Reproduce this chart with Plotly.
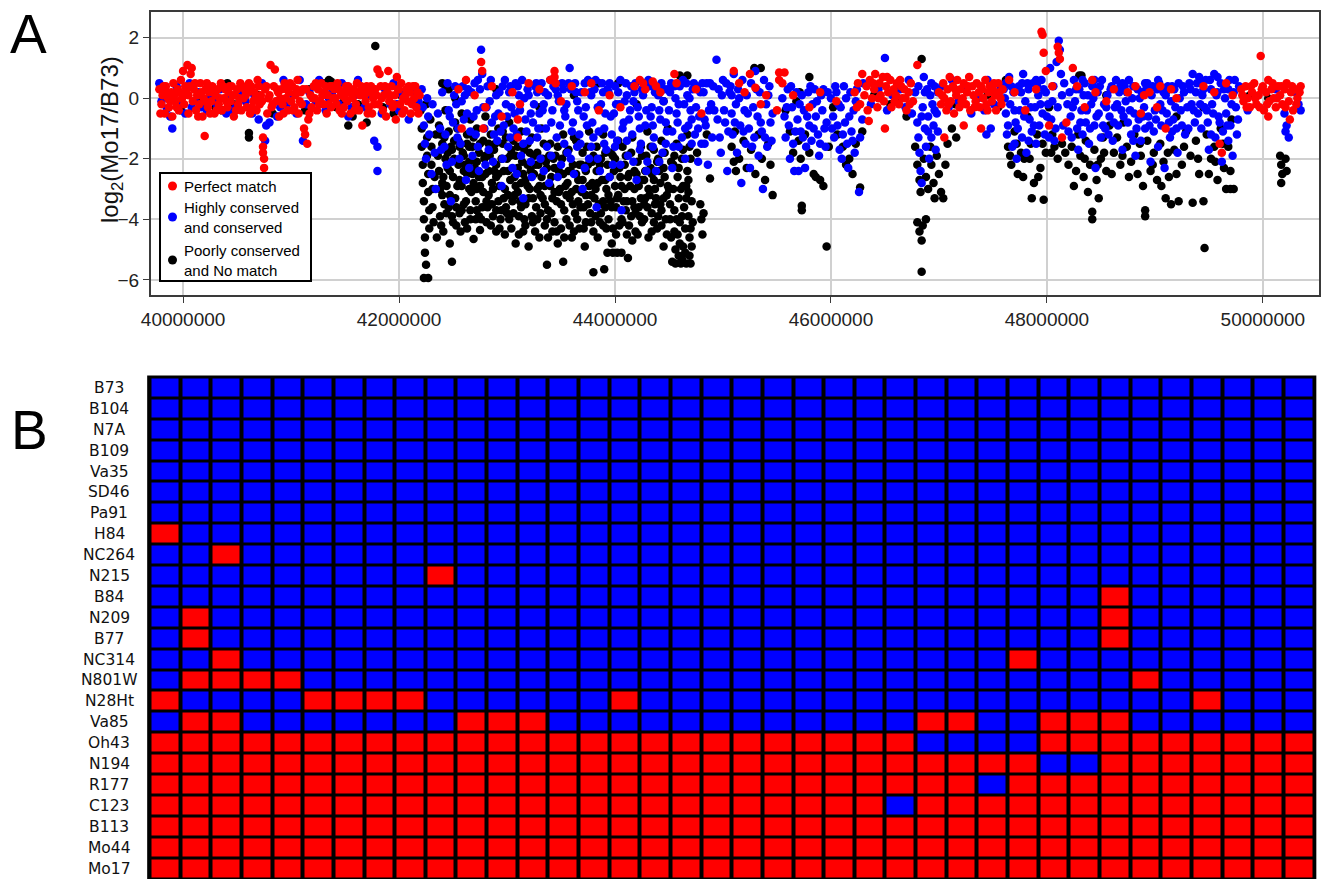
import plotly.graph_objects as go

# ---------------- Panel A data (x in Mb, y = log2(Mo17/B73)) ----------------
perfect_match = [
    (39.78,0.3),(39.80,-0.2),(39.81,0.1),(39.83,-0.5),(39.84,0.4),(39.86,0.0),(39.87,-0.3),(39.89,0.2),(39.90,-0.6),(39.92,0.1),
    (39.93,-0.1),(39.95,0.3),(39.96,-0.4),(39.98,0.6),(39.99,0.0),(40.00,0.9),(40.01,-0.2),(40.03,0.2),(40.04,1.1),(40.05,-0.5),
    (40.06,0.4),(40.07,0.8),(40.08,1.0),(40.09,-0.1),(40.10,0.3),(40.12,-0.4),(40.13,0.1),(40.15,-0.2),(40.16,0.5),(40.18,-0.6),
    (40.19,0.0),(40.20,-1.25),(40.21,0.3),(40.23,-0.3),(40.24,0.2),(40.26,-0.1),(40.27,0.4),(40.29,-0.5),(40.30,0.1),(40.32,0.3),
    (40.33,-0.2),(40.35,0.5),(40.36,-0.4),(40.38,0.0),(40.39,0.3),(40.41,-0.3),(40.42,0.2),(40.44,-0.1),(40.45,0.4),(40.47,-0.6),
    (40.48,0.1),(40.50,0.3),(40.51,-0.2),(40.53,0.5),(40.54,-0.4),(40.56,0.0),(40.57,0.3),(40.59,-0.3),(40.60,0.2),(40.62,-0.5),
    (40.63,0.4),(40.65,-0.1),(40.66,0.2),(40.68,-0.4),(40.69,0.6),(40.71,-0.2),(40.72,0.1),(40.74,-1.3),(40.74,-1.6),(40.74,-1.8),
    (40.75,-2.0),(40.75,-2.3),(40.76,0.3),(40.78,-0.5),(40.79,0.0),(40.81,1.1),(40.82,-0.3),(40.84,0.4),(40.85,0.95),(40.86,-0.1),
    (40.88,0.2),(40.89,-0.6),(40.91,0.3),(40.92,-0.2),(40.94,0.5),(40.95,0.0),(40.97,-0.4),(40.98,0.2),(41.00,-0.1),(41.01,0.4),
    (41.03,-0.3),(41.04,0.1),(41.06,0.6),(41.07,-0.5),(41.09,0.2),(41.10,-0.2),(41.12,-1.0),(41.13,-1.2),(41.14,0.3),(41.15,-1.5),
    (41.16,-0.7),(41.18,0.1),(41.19,-0.3),(41.21,0.4),(41.22,0.0),(41.24,-0.4),(41.25,0.3),(41.27,-0.1),(41.28,0.5),(41.30,-0.2),
    (41.31,0.2),(41.33,-0.5),(41.34,0.1),(41.36,0.4),(41.37,-0.3),(41.39,0.0),(41.40,0.3),(41.42,-0.2),(41.43,0.5),(41.45,-0.4),
    (41.46,0.1),(41.48,0.2),(41.49,-0.3),(41.51,0.4),(41.52,-0.1),(41.54,0.2),(41.55,-0.5),(41.57,0.0),(41.58,0.3),(41.60,-0.2),
    (41.61,0.5),(41.63,-0.4),(41.64,0.1),(41.66,-0.9),(41.67,0.3),(41.69,-0.1),(41.70,0.4),(41.72,-0.3),(41.73,0.2),(41.75,-0.5),
    (41.76,0.0),(41.78,0.3),(41.80,0.95),(41.81,-0.2),(41.82,0.8),(41.83,0.4),(41.85,-0.4),(41.86,0.1),(41.88,-0.6),(41.89,0.2),
    (41.90,0.9),(41.91,-0.1),(41.93,0.4),(41.94,-0.3),(41.96,0.1),(41.97,-0.7),(41.98,0.7),(41.99,0.3),(42.01,-0.2),(42.02,0.5),
    (42.04,0.0),(42.05,-0.4),(42.07,0.3),(42.08,-0.1),(42.10,0.2),(42.11,-0.5),(42.13,0.4),(42.14,0.0),(42.16,-0.3),(42.17,0.2),
    (39.79,-0.5),(39.82,0.4),(39.85,0.2),(39.88,-0.1),(39.91,0.5),(39.94,-0.3),(39.97,0.2),(40.02,0.4),(40.05,0.1),(40.11,0.5),
    (40.14,-0.6),(40.17,0.2),(40.20,-0.1),(40.22,0.5),(40.25,-0.5),(40.28,0.2),(40.31,-0.4),(40.34,0.0),(40.37,0.4),(40.40,-0.1),
    (40.43,0.4),(40.46,0.1),(40.49,-0.4),(40.52,0.0),(40.55,0.4),(40.58,0.1),(40.61,0.5),(40.64,-0.3),(40.67,0.0),(40.70,0.4),
    (40.73,-0.1),(40.77,0.4),(40.80,0.1),(40.83,-0.2),(40.87,0.3),(40.90,0.0),(40.93,-0.5),(40.96,0.3),(40.99,0.5),(41.02,-0.4),
    (41.05,0.3),(41.08,-0.1),(41.11,0.3),(41.17,-0.5),(41.20,0.0),(41.23,0.5),(41.26,-0.2),(41.29,0.1),(41.32,0.4),(41.35,-0.2),
    (41.38,0.4),(41.41,0.0),(41.44,0.3),(41.47,-0.5),(41.50,0.0),(41.53,0.4),(41.56,0.2),(41.59,-0.4),(41.62,0.2),(41.65,0.4),
    (41.68,0.1),(41.71,-0.5),(41.74,0.4),(41.77,-0.2),(41.79,0.1),(41.84,0.0),(41.87,0.4),(41.92,0.1),(41.95,-0.2),(42.00,0.3),
    (42.03,-0.5),(42.06,0.1),(42.09,0.4),(42.12,-0.2),(42.15,0.4),(42.18,-0.5),(42.19,0.1),
    (42.55,0.3),(42.62,0.6),(42.70,0.1),(42.76,1.2),(42.77,0.9),(42.80,-0.3),(42.86,0.4),(42.95,-0.6),(43.05,0.2),(43.12,-0.2),
    (43.20,0.5),(43.30,0.3),(43.40,0.6),(43.44,0.9),(43.44,0.7),(43.45,0.5),(43.50,-0.1),(43.60,0.4),(43.72,0.2),(43.78,0.5),
    (43.85,-0.4),(43.95,0.1),(44.05,-0.3),(44.18,0.4),(44.23,0.6),(44.26,0.5),(44.28,0.3),(44.35,0.55),(44.38,0.4),(44.42,0.2),
    (44.55,0.8),(44.57,0.5),(44.75,0.3),(44.80,-0.5),(43.10,-1.3),(42.58,-1.0),(42.78,-1.0),(43.10,-0.7),
    (45.10,0.9),(45.15,0.5),(45.20,0.2),(45.25,0.8),(45.30,0.35),(45.35,-0.2),(45.40,0.1),(45.52,0.85),(45.57,0.85),(45.52,0.6),
    (45.55,0.5),(45.50,-0.4),(45.65,0.1),(45.80,-0.3),(45.90,0.2),(46.05,-0.1),
    (46.22,0.2),(46.25,0.5),(46.27,-0.2),(46.29,0.8),(46.31,0.1),(46.33,0.4),(46.34,-0.4),(46.36,0.6),(46.38,0.0),(46.40,0.3),
    (46.41,0.8),(46.43,-0.3),(46.45,0.5),(46.46,0.1),(46.48,0.7),(46.49,-0.1),(46.50,-1.0),(46.51,0.4),(46.53,0.2),(46.55,0.6),
    (46.56,-0.3),(46.58,0.3),(46.60,0.1),(46.61,0.5),(46.63,-0.2),(46.65,0.4),(46.66,0.0),(46.68,0.3),(46.70,-0.4),(46.72,0.2),
    (46.74,0.5),(46.76,-0.1),(46.80,1.1),(46.35,-0.75),(46.24,-0.3),(46.39,0.5),(46.44,0.0),(46.52,0.7),(46.59,-0.1),(46.64,0.6),
    (46.69,0.0),(46.73,-0.2),
    (47.00,0.2),(47.02,-0.2),(47.04,0.5),(47.05,0.0),(47.07,-0.4),(47.08,0.3),(47.10,0.7),(47.11,-0.1),(47.13,0.4),(47.14,-0.5),
    (47.16,0.1),(47.17,0.6),(47.19,-0.3),(47.20,0.3),(47.22,0.0),(47.23,0.5),(47.25,-0.2),(47.26,0.2),(47.28,0.7),(47.29,-0.4),
    (47.31,0.4),(47.32,0.1),(47.34,-0.1),(47.35,0.5),(47.37,0.2),(47.38,-0.3),(47.40,0.3),(47.41,0.0),(47.43,0.6),(47.44,-0.2),
    (47.46,0.2),(47.47,0.4),(47.49,-0.1),(47.50,0.3),(47.52,0.1),(47.53,-0.4),(47.55,0.5),(47.56,0.2),(47.58,-0.2),(47.59,0.3),
    (47.23,-0.9),(47.39,-1.0),(47.05,-1.3),(47.03,0.1),(47.09,-0.2),(47.15,0.3),(47.21,-0.1),(47.27,0.4),(47.33,-0.3),(47.39,0.4),
    (47.45,-0.4),(47.51,0.5),(47.57,0.0),
    (47.65,0.6),(47.70,0.2),(47.80,-0.4),(47.90,0.3),(47.95,2.2),(47.96,2.1),(47.97,1.5),(47.99,0.9),(48.02,-0.9),(48.05,0.4),
    (48.10,1.7),(48.11,1.5),(48.12,1.3),(48.14,-1.3),(48.18,-0.8),(48.24,1.0),(48.28,0.4),(48.35,-0.3),(48.42,0.6),(48.45,0.2),
    (48.55,-0.1),(48.62,0.3),(48.75,0.2),(48.82,0.4),(48.87,-0.5),(48.90,0.1),(48.95,0.2),(49.02,-0.3),(49.05,0.4),(49.10,-1.0),
    (49.15,0.3),(49.20,0.0),(49.45,0.4),(49.55,0.2),(49.60,-1.5),(49.62,-1.8),(49.66,0.5),(49.72,0.1),
    (49.80,0.3),(49.82,-0.1),(49.84,0.4),(49.86,0.0),(49.88,-0.3),(49.90,0.2),(49.92,0.5),(49.94,-0.2),(49.96,0.1),(49.98,1.4),
    (49.99,0.3),(50.01,-0.4),(50.03,0.2),(50.05,0.6),(50.06,-0.1),(50.08,0.3),(50.10,0.0),(50.12,-0.3),(50.14,0.4),(50.16,0.1),
    (50.18,-0.2),(50.20,0.3),(50.22,0.5),(50.24,-0.1),(50.26,0.2),(50.28,-0.4),(50.30,0.3),(50.32,0.0),(50.34,0.2),(50.05,-0.6),
    (50.25,-0.7),(49.81,0.1),(49.85,-0.3),(49.89,0.4),(49.93,0.0),(49.97,-0.3),(50.00,0.4),(50.04,-0.2),(50.09,0.5),(50.13,0.0),
    (50.17,0.4),(50.21,-0.3),(50.27,0.4),(50.31,-0.2),(50.35,0.4),
]

highly_conserved = [
    (39.78,0.5),(39.80,-0.1),(39.82,0.2),(39.85,-0.35),(39.88,-0.6),(39.90,-1.0),(39.91,0.0),(39.94,0.4),(39.97,-0.2),(40.00,0.1),
    (40.02,-0.5),(40.06,0.5),(40.11,-0.1),(40.14,0.2),(40.17,-0.3),(40.22,-0.4),(40.25,0.1),(40.31,-0.2),(40.34,0.3),(40.40,-0.5),
    (40.43,0.0),(40.49,-0.3),(40.52,0.2),(40.58,-0.1),(40.64,-0.5),(40.70,-0.7),(40.73,0.5),(40.76,-1.4),(40.77,-0.9),(40.80,-0.8),
    (40.87,-0.6),(40.93,0.6),(40.96,-0.2),(41.02,0.1),(41.05,-0.5),(41.08,0.6),(41.11,-1.4),(41.17,0.2),(41.23,-0.1),(41.26,0.6),
    (41.32,-0.4),(41.38,0.2),(41.44,-0.2),(41.47,0.5),(41.53,-0.6),(41.59,0.1),(41.62,0.6),(41.68,-0.3),(41.71,0.1),(41.77,-1.4),
    (41.80,-1.6),(41.80,-2.4),(41.84,-0.5),(41.87,0.3),(41.92,-0.2),(41.95,0.5),(42.00,-0.4),(42.03,0.1),(42.09,-0.7),(42.12,0.2),
    (42.18,-0.1),(40.08,-0.3),(40.28,0.0),(40.46,-0.4),(40.66,0.1),(40.90,-0.3),(41.14,-0.2),(41.35,0.0),(41.56,-0.3),(41.74,0.1),
    (41.98,-0.2),
    (42.21,0.3),(42.22,-0.3),(42.23,-0.9),(42.24,-1.5),(42.25,-2.0),(42.26,0.0),(42.27,-0.6),(42.28,-1.2),(42.30,-2.5),(42.31,-0.2),
    (42.33,-1.8),(42.34,-3.0),(42.36,-0.5),(42.38,-1.0),(42.40,0.2),(42.42,-1.6),(42.44,-2.2),(42.46,-0.4),(42.48,-3.4),(42.50,-0.8),
    (42.52,0.4),(42.54,-1.3),(42.56,-2.0),(42.58,-0.1),(42.60,-0.7),(42.62,-2.7),(42.64,0.3),(42.66,-1.1),(42.68,-1.9),(42.70,0.5),
    (42.72,-0.4),(42.74,-2.4),(42.76,1.6),(42.77,0.8),(42.79,-1.0),(42.81,-0.3),(42.83,-1.7),(42.85,0.6),(42.87,-2.1),(42.89,-0.6),
    (42.91,-1.4),(42.93,0.2),(42.95,-2.9),(42.97,-0.9),(42.99,-0.2),(43.01,-1.6),(43.03,0.4),(43.05,-2.3),(43.07,-0.5),(43.09,-1.2),
    (43.11,0.1),(43.13,-1.9),(43.15,-3.3),(43.17,-0.7),(43.19,0.3),(43.21,-1.4),(43.23,-2.6),(43.25,-0.2),(43.27,0.5),(43.29,-1.0),
    (43.31,-2.0),(43.33,-0.4),(43.35,0.2),(43.37,-1.6),(43.39,-2.8),(43.41,-0.8),(43.43,0.4),(43.46,-1.3),(43.48,-0.1),(43.50,-2.2),
    (43.52,0.3),(43.54,-0.6),(43.56,-1.8),(43.58,1.0),(43.60,-1.1),(43.62,-2.5),(43.64,0.2),(43.66,-0.4),(43.68,-1.5),(43.70,-3.0),
    (43.72,0.5),(43.74,-0.9),(43.76,-2.0),(43.78,0.1),(43.80,-1.3),(43.83,-3.6),(43.84,-0.3),(43.86,-2.4),(43.88,0.5),(43.90,-1.0),
    (43.92,-1.7),(43.94,0.2),(43.96,-0.6),(43.98,-2.2),(44.00,0.4),(44.02,-1.4),(44.04,-0.2),(44.06,-3.7),(44.08,-0.8),(44.10,0.5),
    (44.12,-1.9),(44.14,-0.4),(44.16,-1.2),(44.18,0.2),(44.20,-2.7),(44.22,-0.6),(44.24,-1.5),(44.26,0.1),(44.28,-0.9),(44.30,-2.1),
    (44.32,0.4),(44.34,-0.3),(44.36,-1.3),(44.38,-2.4),(44.40,0.1),(44.42,-0.7),(44.44,-1.8),(44.46,0.3),(44.48,-1.1),(44.50,-0.4),
    (44.52,0.5),(44.54,-1.6),(44.56,0.0),(44.58,-0.8),(44.60,0.4),(44.62,-1.3),(44.64,-0.2),(44.66,0.5),(44.68,-0.9),(44.70,-0.4),
    (44.72,0.3),(44.74,-1.2),(44.76,0.4),(44.78,-0.6),(44.80,-1.5),(44.82,0.2),(44.84,-0.9),(44.86,-2.2),(44.88,0.5),(44.90,-1.3),
    (44.92,-0.4),(44.94,1.27),(44.96,0.3),(44.98,-1.8),(45.00,0.6),(45.02,-0.8),(45.04,-2.4),(45.06,0.2),
    (42.45,0.5),(42.53,-0.2),(42.61,0.1),(42.69,-0.6),(42.75,0.3),(42.84,-0.1),(42.92,-0.5),(42.98,0.6),(43.04,-0.3),(43.10,0.4),
    (43.16,0.0),(43.22,-0.5),(43.28,0.2),(43.34,-0.2),(43.40,0.6),(43.47,0.1),(43.53,-0.4),(43.59,0.3),(43.65,-0.1),(43.71,-0.6),
    (43.77,0.2),(43.82,0.6),(43.87,-0.2),(43.93,0.3),(43.99,-0.5),(44.03,0.2),(44.09,-0.1),(44.15,0.4),(44.21,-0.3),(44.27,0.5),
    (44.33,-0.6),(44.39,0.3),(44.45,-0.1),(44.51,0.2),(44.57,-0.5),(44.63,0.6),(44.69,0.0),(44.75,-0.3),(44.81,0.5),(44.87,-0.4),
    (42.47,-0.6),(42.51,0.1),(42.55,-1.0),(42.59,0.4),(42.63,-0.5),(42.67,0.2),(42.71,-1.2),(42.73,0.6),(42.78,-0.3),(42.82,0.4),
    (42.86,-0.8),(42.90,0.1),(42.94,-1.1),(42.96,0.4),(43.00,-0.6),(43.02,0.2),(43.06,-1.0),(43.08,0.5),(43.12,-0.4),(43.14,0.6),
    (43.18,-1.1),(43.20,0.1),(43.24,-0.8),(43.26,0.4),(43.30,-0.5),(43.32,0.5),(43.36,-1.0),(43.38,0.1),(43.42,-0.4),(43.45,0.3),
    (43.49,-0.9),(43.51,0.5),(43.55,-0.2),(43.57,0.5),(43.61,-0.8),(43.63,0.5),(43.67,-1.2),(43.69,0.2),(43.73,-0.3),(43.75,0.6),
    (43.79,-0.8),(43.81,0.3),(43.85,-1.1),(43.89,0.2),(43.91,-0.5),(43.95,0.5),(43.97,-1.2),(44.01,-0.2),(44.05,0.6),(44.07,-1.0),
    (44.11,0.1),(44.13,-0.7),(44.17,-0.1),(44.19,0.5),(44.23,-1.0),(44.25,0.3),(44.29,-0.4),(44.31,0.6),(44.35,-0.9),(44.37,0.2),
    (44.41,-0.4),(44.43,0.5),(44.47,-0.8),(44.49,0.3),(44.53,-1.1),(44.55,0.4),(44.59,-0.2),(44.61,0.5),(44.65,-1.0),(44.67,0.1),
    (44.71,-0.7),(44.73,0.5),(44.77,-1.0),(44.79,0.2),(44.83,-0.7),(44.85,0.5),(44.89,-0.2),(44.91,0.4),(44.95,-0.7),(44.97,-1.3),
    (44.99,0.1),(45.01,-0.4),(45.03,0.5),(45.05,-1.1),
    (42.39,-1.7),(42.43,-1.2),(42.49,-2.1),(42.57,-1.5),(42.65,-2.3),(42.73,-1.6),(42.80,-2.2),(42.88,-1.2),(42.96,-2.0),(43.03,-1.3),
    (43.09,-2.5),(43.15,-1.5),(43.22,-2.1),(43.28,-1.3),(43.34,-2.4),(43.41,-1.9),(43.47,-2.6),(43.53,-1.5),(43.59,-2.0),(43.65,-1.6),
    (43.72,-2.3),(43.78,-1.6),(43.84,-2.0),(43.90,-1.5),(43.95,-2.6),(44.00,-1.6),(44.05,-2.2),(44.11,-1.4),(44.17,-2.1),(44.23,-1.7),
    (44.29,-2.4),(44.35,-1.6),(44.41,-2.1),(44.47,-1.5),(44.53,-2.3),(44.59,-1.6),(44.65,-2.0),(44.71,-1.5),(44.77,-2.1),(44.83,-1.5),
    (45.07,0.4),(45.08,-0.5),(45.09,-1.2),(45.10,0.8),(45.12,-0.2),(45.13,-1.8),(45.14,0.3),(45.16,-0.9),(45.17,-2.8),(45.18,0.6),
    (45.20,-0.4),(45.21,-1.5),(45.22,0.1),(45.24,-1.0),(45.25,-2.3),(45.26,0.5),(45.28,-0.3),(45.29,-1.3),(45.30,0.9),(45.32,-0.6),
    (45.33,-1.9),(45.34,0.2),(45.36,-1.1),(45.37,-3.0),(45.38,0.6),(45.40,-0.2),(45.41,-1.6),(45.42,0.1),(45.44,-0.8),(45.45,-1.4),
    (45.55,0.0),(45.57,-0.6),(45.58,-1.3),(45.60,0.3),(45.61,-0.9),(45.62,-2.0),(45.64,-0.3),(45.65,-1.5),(45.66,-2.4),(45.68,0.2),
    (45.69,-0.7),(45.70,-2.4),(45.72,-1.1),(45.73,0.1),(45.75,-0.4),(45.76,-2.3),(45.77,-1.6),(45.79,0.2),(45.80,-0.9),(45.82,-1.4),
    (45.83,-0.2),(45.85,0.3),(45.86,-0.6),(45.88,-1.2),(45.89,-1.9),(45.91,0.1),(45.92,-0.4),(45.94,-1.0),(45.95,-1.6),(45.97,0.2),
    (46.00,0.0),(46.02,-0.6),(46.03,-1.3),(46.05,0.2),(46.06,-0.9),(46.08,-1.7),(46.09,-0.3),(46.10,-2.0),(46.12,0.4),(46.13,-0.8),
    (46.15,-1.5),(46.16,-2.3),(46.18,0.2),(46.19,-1.1),(46.21,-0.4),(46.22,-1.8),(46.24,0.3),(46.26,-3.1),(46.27,-1.3),(46.29,-0.7),
    (45.08,0.1),(45.11,-0.8),(45.15,0.0),(45.19,-1.1),(45.23,-0.5),(45.27,-1.6),(45.31,0.3),(45.35,-0.8),(45.39,-1.3),(45.43,0.4),
    (45.46,-0.5),(45.59,-0.3),(45.63,0.4),(45.67,-1.1),(45.71,-0.2),(45.74,-1.3),(45.78,-0.6),(45.81,0.4),(45.84,-1.0),(45.87,-0.1),
    (45.90,-1.5),(45.93,0.3),(45.96,-0.8),(46.01,-1.0),(46.04,0.4),(46.07,-0.2),(46.11,-1.2),(46.14,0.0),(46.17,-0.6),(46.20,-1.4),
    (46.23,-0.1),
    (46.30,0.5),(46.37,-0.2),(46.44,0.3),(46.50,1.33),(46.52,-0.4),(46.57,0.1),(46.64,0.3),(46.69,-0.3),(46.72,0.6),(46.75,-0.5),
    (46.78,0.2),(46.80,-0.8),(46.81,-1.3),(46.82,-1.8),(46.83,-2.4),(46.84,-2.8),(46.85,-0.3),(46.86,0.7),(46.87,-1.0),(46.88,-1.6),
    (46.89,0.3),(46.90,-0.6),(46.91,-2.0),(46.92,0.1),(46.93,-1.3),(46.94,-0.2),(46.95,-0.9),(46.96,0.4),(46.97,-1.7),(46.98,-0.5),
    (46.99,0.2),(46.81,0.4),(46.84,-0.6),(46.87,0.2),(46.90,-1.1),(46.93,0.5),(46.96,-0.4),(46.99,-1.1),
    (47.03,0.4),(47.09,-0.3),(47.12,0.6),(47.18,-0.1),(47.24,0.3),(47.30,-0.5),(47.36,0.0),(47.42,-0.4),(47.45,0.6),(47.51,-0.2),
    (47.57,0.4),(47.44,-1.2),(47.48,-1.0),
    (47.60,0.3),(47.62,-0.5),(47.63,-1.2),(47.65,0.7),(47.66,-0.2),(47.68,-1.6),(47.69,0.2),(47.71,-0.8),(47.72,-2.0),(47.74,0.4),
    (47.75,-0.4),(47.77,-1.3),(47.78,0.8),(47.80,-0.1),(47.81,-1.8),(47.83,0.3),(47.84,-0.7),(47.86,-1.1),(47.87,0.5),(47.89,-0.3),
    (47.90,-1.5),(47.92,0.1),(47.93,-0.9),(47.95,0.6),(47.96,-0.5),(47.98,-1.2),(47.99,0.2),(48.01,-0.2),(48.03,1.0),(48.04,-0.7),
    (48.06,0.4),(48.07,-1.4),(48.09,1.2),(48.10,-0.3),(48.11,1.9),(48.12,1.6),(48.13,0.8),(48.14,0.1),(48.15,-0.9),(48.16,0.5),
    (48.21,0.2),(48.22,-0.6),(48.23,-1.3),(48.25,0.6),(48.26,-0.1),(48.28,-1.0),(48.29,-1.7),(48.30,0.3),(48.32,-0.4),(48.33,-1.2),
    (48.35,0.5),(48.36,-0.8),(48.38,0.1),(48.39,-1.5),(48.41,-0.2),(48.42,0.4),(48.44,-0.9),(48.45,-2.3),(48.47,0.2),(48.48,-0.5),
    (48.50,-1.3),(48.51,0.6),(48.53,-0.2),(48.54,-1.0),(48.56,0.1),(48.58,-0.6),(48.60,0.4),(48.61,-1.4),(48.63,-0.3),(48.64,0.6),
    (48.66,-0.9),(48.67,0.2),(48.69,-0.4),(48.70,-1.7),(48.72,0.4),(48.73,-0.1),(48.75,-0.8),(48.76,0.6),(48.78,-1.2),(48.79,0.0),
    (48.81,-0.5),(48.82,-1.9),(48.84,0.3),(48.85,-0.7),(48.87,-1.4),(48.88,0.2),(48.90,-0.3),(48.91,-1.0),(48.93,0.5),(48.94,-0.6),
    (48.96,-2.1),(48.97,0.1),(48.99,-1.1),(49.00,-0.4),(49.02,0.3),(49.03,-1.6),(49.05,-0.2),(49.06,-0.9),(49.08,0.2),(49.09,-2.3),
    (49.11,-0.5),(49.12,0.4),(49.14,-1.3),(49.15,-0.1),(49.17,-0.7),(49.18,0.3),(49.20,-1.0),(49.21,-1.8),(49.23,0.0),(49.24,-0.4),
    (49.26,0.4),(49.28,-1.2),(49.32,0.5),(49.34,-0.2),(49.35,0.8),(49.37,-0.8),(49.38,0.2),(49.40,-0.5),(49.41,0.7),(49.43,-1.0),
    (49.44,0.1),(49.46,-0.3),(49.47,0.6),(49.49,-0.8),(49.50,-1.7),(49.52,0.3),(49.53,-0.2),(49.55,0.8),(49.56,-1.3),(49.58,0.2),
    (49.59,-0.6),(49.61,0.5),(49.62,-2.1),(49.63,-1.1),(49.65,0.0),(49.66,-0.5),(49.68,-1.4),(49.69,0.6),(49.70,-0.9),(49.72,-1.9),
    (49.73,0.2),(49.75,-0.3),(49.76,-1.2),(49.78,0.4),
    (47.61,0.0),(47.64,-0.9),(47.67,0.4),(47.70,-0.4),(47.73,-1.0),(47.76,0.2),(47.79,-0.6),(47.82,0.5),(47.85,-0.3),(47.88,-0.9),
    (47.91,0.4),(47.94,-0.2),(47.97,0.3),(48.00,-0.6),(48.05,-0.1),(48.08,-1.0),(48.24,-0.3),(48.27,0.3),(48.31,-0.8),(48.34,0.1),
    (48.37,-0.4),(48.40,-1.0),(48.43,0.0),(48.46,-0.6),(48.49,0.4),(48.52,-0.9),(48.55,-0.3),(48.59,0.3),(48.62,-0.8),(48.65,-0.2),
    (48.68,0.4),(48.71,-0.6),(48.74,0.2),(48.77,-0.4),(48.80,0.4),(48.83,-1.0),(48.86,0.0),(48.89,-0.6),(48.92,0.3),(48.95,-0.9),
    (48.98,0.4),(49.01,-0.7),(49.04,0.5),(49.07,-0.4),(49.10,0.1),(49.13,-0.8),(49.16,0.4),(49.19,-0.3),(49.22,0.5),(49.25,-0.9),
    (49.30,-0.3),(49.33,0.3),(49.36,-0.4),(49.39,0.5),(49.42,-0.2),(49.45,0.3),(49.48,-0.4),(49.51,0.6),(49.54,-0.5),(49.57,0.1),
    (49.60,-0.8),(49.64,0.3),(49.67,-0.9),(49.71,-0.2),(49.74,0.6),
    (47.62,0.5),(47.70,-1.5),(47.77,0.5),(47.83,-1.4),(47.90,0.6),(48.02,-1.3),(48.19,-0.2),(48.20,-1.1),(48.33,0.6),(48.44,0.6),
    (48.57,-1.2),(48.70,0.5),(48.80,-1.4),(48.91,0.5),(49.03,0.6),(49.16,-1.1),(49.27,0.2),(49.31,-1.0),(49.43,0.5),(49.52,-1.2),
    (49.58,0.7),(49.68,0.3),(49.77,-0.7),
    (50.20,-0.5),(50.22,-0.9),(50.24,-1.3),(50.21,-1.1),(50.33,-0.2),(50.35,-0.4),(50.30,0.2),(50.12,0.3),(49.86,-0.4),
]

poorly_conserved = [
    (39.98,-0.4),(40.15,0.0),(40.30,-0.3),(40.36,-0.4),(40.41,0.5),(40.47,-0.2),(40.61,-1.15),(40.61,-1.3),(40.70,0.1),(40.83,-0.5),
    (40.95,0.4),(41.13,-0.4),(41.17,0.3),(41.30,0.5),(41.35,0.6),(41.37,0.55),(41.42,-0.3),(41.49,-0.1),(41.53,-0.9),(41.57,-0.6),
    (41.62,-0.2),(41.70,-0.8),(41.78,1.73),(41.85,-0.3),(41.95,-0.5),(42.02,0.1),(42.12,0.25),
    (42.20,-0.4),(42.21,-1.0),(42.21,-1.6),(42.22,-2.2),(42.22,-2.8),(42.23,-3.4),(42.23,-4.0),(42.24,-4.6),(42.24,-5.1),(42.25,-5.5),
    (42.23,-5.94),(42.27,-5.94),(42.25,-0.2),(42.26,-1.3),(42.26,-1.9),(42.27,-2.5),(42.27,-3.1),(42.28,-3.7),(42.28,-4.3),(42.29,-0.7),
    (42.30,-1.6),(42.30,-2.2),(42.31,-3.0),(42.31,-3.6),(42.32,-4.1),(42.33,-2.6),(42.34,-1.2),(42.35,-4.6),
    (42.40,0.5),(42.43,0.4),(42.46,0.3),(42.52,0.0),(42.90,0.3),(43.30,-0.3),(43.62,0.1),(43.85,0.5),(44.03,0.5),(44.20,-0.2),
    (44.45,-0.1),(42.44,0.45),
    (42.37,-0.9),(42.37,-2.4),(42.38,-3.9),(42.40,-1.5),(42.40,-3.2),(42.41,-4.4),(42.43,-0.4),(42.43,-2.0),(42.44,-2.9),(42.46,-1.1),
    (42.46,-3.6),(42.47,-4.8),(42.49,-5.4),(42.49,-1.7),(42.50,-2.6),(42.52,-0.8),(42.52,-3.3),(42.53,-4.2),(42.55,-1.4),(42.55,-2.2),
    (42.56,-3.8),(42.58,-0.5),(42.58,-2.9),(42.60,-1.9),(42.60,-3.5),(42.61,-4.1),(42.63,-1.2),(42.63,-2.5),(42.65,-3.0),(42.66,-0.7),
    (42.66,-4.0),(42.68,-1.6),(42.69,-4.65),(42.69,-2.8),(42.71,-3.4),(42.72,-1.0),(42.72,-2.1),(42.74,-3.9),(42.75,-4.35),(42.75,-1.5),
    (42.77,-2.6),(42.78,-3.1),(42.80,-0.6),(42.80,-1.9),(42.82,-3.6),(42.83,-2.4),(42.85,-1.2),(42.85,-4.2),(42.87,-3.0),(42.88,-1.7),
    (42.90,-2.2),(42.90,-3.7),(42.92,-1.0),(42.93,-2.9),(42.94,-4.0),(42.96,-1.5),(42.97,-3.3),(42.98,-4.5),(43.00,-2.0),(43.00,-3.8),
    (43.02,-0.8),(43.03,-2.7),(43.04,-4.3),(43.06,-1.4),(43.07,-3.2),(43.08,-4.8),(43.10,-2.3),(43.11,-3.9),(43.13,-1.1),(43.13,-2.8),
    (43.15,-4.4),(43.16,-1.7),(43.17,-3.5),(43.19,-2.2),(43.20,-4.9),(43.21,-3.0),(43.23,-1.3),(43.24,-4.1),(43.25,-2.5),(43.27,-3.6),
    (43.28,-1.8),(43.30,-4.6),(43.30,-2.9),(43.32,-1.0),(43.33,-3.3),(43.35,-4.2),(43.36,-2.1),(43.37,-5.5),(43.38,-3.7),(43.40,-1.5),
    (43.41,-2.6),(43.42,-4.4),(43.44,-3.1),(43.45,-1.9),(43.47,-4.8),(43.48,-2.4),(43.50,-3.5),(43.52,-5.4),(43.52,-1.2),(43.54,-2.9),
    (43.55,-4.0),(43.57,-1.7),(43.58,-3.3),(43.60,-4.6),(43.61,-2.2),(43.63,-3.8),(43.64,-1.4),(43.66,-2.7),(43.67,-4.3),(43.69,-3.1),
    (43.70,-1.8),(43.72,-4.9),(43.73,-2.4),(43.75,-3.5),(43.76,-1.1),(43.78,-4.1),(43.79,-2.8),(43.80,-5.75),(43.81,-3.3),(43.83,-1.6),
    (43.84,-4.6),(43.86,-2.2),(43.87,-3.8),(43.89,-1.2),(43.90,-5.65),(43.91,-2.7),(43.92,-4.3),(43.93,-5.1),(43.94,-3.2),(43.96,-1.8),
    (43.97,-4.8),(43.98,-5.1),(43.99,-2.4),(44.01,-3.6),(44.02,-5.1),(44.03,-1.4),(44.04,-4.2),(44.06,-2.9),(44.06,-5.1),(44.08,-3.4),
    (44.10,-1.9),(44.11,-4.5),(44.12,-5.28),(44.13,-2.5),(44.15,-3.9),(44.16,-1.3),(44.18,-3.0),(44.19,-4.4),(44.21,-2.1),(44.22,-3.6),
    (44.24,-1.6),(44.25,-4.1),(44.27,-2.7),(44.28,-3.3),(44.30,-1.1),(44.31,-4.6),(44.33,-2.3),(44.34,-3.8),(44.36,-1.7),(44.37,-3.0),
    (44.39,-4.3),(44.40,-2.0),(44.42,-3.5),(44.43,-1.4),(44.45,-4.9),(44.46,-2.6),(44.48,-3.2),(44.49,-1.0),(44.51,-4.0),(44.53,-5.4),
    (44.54,-2.2),(44.54,-3.0),(44.55,-3.7),(44.55,-4.4),(44.56,-5.0),(44.56,-5.46),(44.57,-1.5),(44.58,-2.6),(44.59,-3.3),(44.60,-4.1),
    (44.60,-4.8),(44.61,-5.46),(44.62,-2.0),(44.63,-2.9),(44.64,-3.6),(44.65,-4.3),(44.65,-5.1),(44.66,-5.46),(44.67,-1.2),(44.67,-2.4),
    (44.68,-3.1),(44.68,-3.9),(44.69,-4.6),(44.70,-5.46),(44.70,-2.0),(44.71,-3.4),(44.60,0.75),(44.67,0.75),(44.79,-3.5),(44.80,-4.0),
    (44.81,-4.5),(44.82,-3.8),(44.88,-2.65),(44.76,-1.8),(44.85,-1.2),(45.10,-2.1),(45.12,-2.4),
    (42.36,-1.9),(42.38,-3.0),(42.39,-4.2),(42.41,-2.6),(42.42,-1.3),(42.44,-3.8),(42.45,-2.3),(42.47,-3.2),(42.48,-1.6),(42.50,-4.1),
    (42.51,-2.0),(42.53,-3.6),(42.54,-1.0),(42.56,-2.7),(42.57,-4.4),(42.59,-1.8),(42.60,-2.4),(42.62,-3.4),(42.63,-1.5),(42.65,-2.1),
    (42.66,-3.7),(42.68,-2.5),(42.69,-1.3),(42.71,-4.0),(42.72,-3.0),(42.74,-1.8),(42.75,-2.9),(42.77,-3.6),(42.78,-1.4),(42.80,-2.5),
    (42.81,-4.1),(42.83,-3.2),(42.84,-1.9),(42.86,-2.8),(42.87,-3.9),(42.89,-1.5),(42.90,-2.6),(42.92,-3.4),(42.93,-4.3),(42.95,-2.0),
    (42.96,-1.1),(42.98,-3.0),(42.99,-3.6),(43.01,-2.4),(43.02,-4.0),(43.04,-1.7),(43.05,-3.4),(43.07,-2.6),(43.08,-1.9),(43.10,-3.1),
    (43.11,-4.5),(43.13,-3.6),(43.14,-2.1),(43.16,-4.0),(43.17,-2.7),(43.19,-1.5),(43.20,-3.3),(43.22,-2.4),(43.23,-3.9),(43.25,-1.9),
    (43.26,-4.4),(43.28,-3.0),(43.29,-2.2),(43.31,-3.8),(43.32,-2.6),(43.34,-1.5),(43.35,-3.5),(43.37,-2.3),(43.38,-4.6),(43.40,-2.9),
    (43.41,-3.8),(43.43,-2.0),(43.44,-4.1),(43.46,-3.4),(43.47,-1.6),(43.49,-3.0),(43.50,-4.3),(43.52,-2.5),(43.53,-3.7),(43.55,-1.8),
    (43.56,-2.8),(43.58,-4.2),(43.59,-2.4),(43.61,-3.5),(43.62,-1.3),(43.64,-3.0),(43.65,-4.0),(43.67,-2.2),(43.68,-3.6),(43.70,-2.7),
    (43.71,-4.3),(43.73,-3.2),(43.74,-1.6),(43.76,-2.9),(43.77,-3.8),(43.79,-2.1),(43.80,-4.4),(43.82,-3.0),(43.83,-2.4),(43.85,-3.5),
    (43.86,-4.1),(43.88,-2.7),(43.89,-3.4),(43.91,-1.8),(43.92,-3.0),(43.94,-4.0),(43.95,-2.6),(43.97,-3.6),(43.98,-1.9),(44.00,-2.9),
    (44.01,-4.5),(44.03,-3.2),(44.04,-2.3),(44.06,-4.0),(44.07,-1.6),(44.09,-3.0),(44.10,-3.7),(44.12,-2.6),(44.13,-4.2),(44.15,-1.8),
    (44.16,-3.4),(44.18,-2.4),(44.19,-3.8),(44.21,-4.5),(44.22,-2.9),(44.24,-3.3),(44.25,-1.9),(44.27,-4.0),(44.28,-2.4),(44.30,-3.6),
    (44.31,-3.0),(44.33,-1.6),(44.34,-4.4),(44.36,-2.7),(44.37,-3.5),(44.39,-2.1),(44.40,-3.9),(44.42,-2.8),(44.43,-4.2),(44.45,-3.3),
    (44.46,-1.8),(44.48,-4.5),(44.49,-2.9),(44.51,-3.5),(44.52,-2.1),(44.58,-4.5),(44.62,-3.9),(44.66,-2.9),(44.69,-1.6),(44.71,-4.9),
    (44.72,-4.1),(44.63,-1.7),(44.59,-5.2),
    (42.38,-1.2),(42.40,-2.8),(42.42,-3.5),(42.45,-1.8),(42.47,-2.4),(42.49,-3.9),(42.51,-1.4),(42.54,-2.9),(42.56,-1.6),(42.58,-3.7),
    (42.61,-2.2),(42.63,-4.3),(42.65,-1.6),(42.67,-3.1),(42.70,-2.3),(42.72,-3.7),(42.74,-2.6),(42.76,-4.0),(42.79,-2.0),(42.81,-3.4),
    (42.83,-1.5),(42.86,-3.5),(42.88,-2.4),(42.90,-4.4),(42.92,-2.5),(42.95,-3.7),(42.97,-2.4),(42.99,-1.3),(43.01,-3.2),(43.03,-1.9),
    (43.06,-3.8),(43.08,-2.9),(43.10,-1.6),(43.12,-3.4),(43.15,-2.5),(43.17,-4.2),(43.19,-2.9),(43.21,-1.8),(43.24,-3.3),(43.26,-2.2),
    (43.28,-4.0),(43.31,-3.2),(43.33,-2.0),(43.35,-2.9),(43.37,-4.0),(43.39,-1.9),(43.42,-3.3),(43.44,-2.3),(43.46,-4.4),(43.48,-3.1),
    (43.51,-2.0),(43.53,-4.6),(43.55,-3.2),(43.57,-2.4),(43.60,-3.1),(43.62,-4.4),(43.64,-2.5),(43.66,-3.4),(43.69,-2.2),(43.71,-3.6),
    (43.73,-4.1),(43.75,-2.2),(43.78,-3.2),(43.80,-1.9),(43.82,-3.9),(43.84,-2.8),(43.87,-2.0),(43.89,-4.2),(43.91,-3.6),(43.93,-2.2),
    (43.96,-3.4),(43.98,-4.3),(44.00,-2.0),(44.02,-3.3),(44.05,-2.6),(44.07,-4.1),(44.09,-2.2),(44.11,-3.4),(44.14,-2.9),(44.16,-4.7),
    (44.18,-3.6),(44.20,-2.5),(44.23,-3.9),(44.25,-2.7),(44.27,-3.5),(44.29,-1.9),(44.32,-3.2),(44.34,-2.5),(44.36,-4.1),(44.38,-3.3),
    (44.41,-2.4),(44.43,-3.7),(44.45,-2.3),(44.47,-4.0),(44.50,-3.0),(44.52,-4.6),(44.55,-1.9),(44.57,-4.0),(44.59,-2.3),(44.61,-3.0),
    (44.63,-4.9),(44.66,-3.3),(44.68,-2.7),(44.70,-4.3),(44.69,-5.2),(44.62,-5.3),
    (45.08,-1.6),(45.11,-1.1),(45.15,-2.0),(45.19,-1.4),(45.22,-2.3),(45.26,-1.7),(45.29,1.0),(45.35,1.0),(45.30,-2.5),(45.33,-1.2),
    (45.36,-2.0),(45.39,-2.7),(45.42,-1.5),(45.44,-2.2),(45.46,-3.2),(45.58,-0.4),(45.62,-1.1),(45.65,-1.8),(45.68,-0.1),(45.70,-1.4),
    (45.72,-2.0),(45.73,-3.55),(45.73,-3.7),(45.76,-1.2),(45.80,-1.8),(45.84,-2.5),(45.86,-2.6),(45.90,-2.7),(45.93,-2.9),(45.96,-4.9),
    (45.98,-1.6),(46.02,-0.3),(46.06,-1.2),(46.11,-1.6),(46.14,-2.2),(46.17,-2.0),(46.20,-2.5),(46.23,-1.5),(46.27,-2.95),(46.29,-1.1),
    (45.71,0.2),(45.80,0.7),
    (46.40,0.1),(46.55,-0.2),(46.62,0.0),(46.70,-0.6),(46.78,-1.6),(46.80,-2.2),(46.82,-2.7),(46.83,-3.1),(46.84,1.3),(46.80,-4.1),
    (46.82,-4.4),(46.84,-4.7),(46.85,-4.2),(46.88,-4.0),(46.84,-5.73),(46.86,-2.0),(46.88,-2.6),(46.90,-3.0),(46.92,-1.6),(46.93,-2.2),
    (46.95,-2.8),(46.96,-3.3),(46.98,-1.9),(47.00,-2.5),(47.02,-3.1),(47.04,-3.3),(47.06,-2.2),(47.08,-1.5),(47.12,-1.0),(47.16,-1.3),
    (47.15,-0.2),(47.25,0.3),(47.45,0.1),(47.55,-0.3),(47.60,0.4),(47.62,0.6),
    (47.64,-1.6),(47.67,-2.2),(47.70,-1.1),(47.73,-2.5),(47.76,-1.8),(47.79,-2.0),(47.82,-0.6),(47.85,-1.5),(47.86,-3.3),(47.88,-2.8),
    (47.91,-1.2),(47.94,-2.3),(47.97,-3.35),(47.99,-1.8),(48.02,-0.3),(48.05,-1.2),(48.07,-1.6),(48.10,-2.0),(48.14,-1.5),(48.17,-1.8),
    (48.23,-1.6),(48.25,-2.9),(48.27,-2.4),(48.30,0.75),(48.32,0.75),(48.31,-1.9),(48.34,-2.6),(48.36,-1.4),(48.38,-3.1),(48.40,-2.2),
    (48.42,-3.75),(48.42,-4.0),(48.44,-1.7),(48.46,-2.7),(48.48,-3.3),(48.50,-2.0),(48.52,-1.3),(48.55,-2.4),(48.58,-0.9),(48.62,-1.8),
    (48.65,-1.3),(48.68,-2.2),(48.71,-0.8),(48.74,-1.6),(48.78,-2.1),(48.81,-1.2),(48.84,-2.5),(48.87,-1.9),(48.89,-2.9),(48.91,-3.7),
    (48.91,-3.9),(48.93,-1.4),(48.96,-2.4),(48.99,-1.8),(49.02,-2.7),(49.05,-1.5),(49.08,-2.1),(49.10,-3.3),(49.13,-2.6),(49.15,-3.5),
    (49.18,-1.7),(49.22,-3.4),(49.25,-2.2),(49.29,-1.1),(49.33,-1.9),(49.35,-3.45),(49.38,-1.4),(49.41,-2.5),(49.45,-3.4),(49.46,-4.95),
    (49.48,-1.2),(49.52,-2.0),(49.55,-1.6),(49.58,-2.7),(49.61,-1.0),(49.64,-2.3),(49.66,-3.0),(49.70,-3.0),(49.73,-3.0),(49.68,-1.6),
    (49.71,-0.7),(49.10,0.2),(48.95,0.4),(48.55,0.1),(49.45,-0.3),(49.20,-0.6),
    (47.66,-1.9),(47.72,-1.5),(47.78,-2.6),(47.84,-2.0),(47.92,-2.6),(47.96,-1.5),(48.04,-1.8),(48.20,-2.2),(48.29,-1.2),(48.35,-2.0),
    (48.47,-2.2),(48.53,-1.8),(48.60,-2.5),(48.70,-1.9),(48.76,-2.6),(48.86,-1.5),(48.98,-2.2),(49.06,-2.9),(49.12,-1.8),(49.20,-2.5),
    (49.27,-1.6),(49.40,-2.0),(49.50,-2.5),(49.56,-2.1),(49.63,-1.5),(49.70,-2.4),
    (50.16,-1.9),(50.17,-2.2),(50.18,-2.5),(50.17,-2.8),(50.21,-2.0),(50.22,-2.4),(49.88,0.1),(50.05,0.0),
]

x_tick_vals = [40, 42, 44, 46, 48, 50]
x_tick_text = ["40000000", "42000000", "44000000", "46000000", "48000000", "50000000"]
y_tick_vals = [-6, -4, -2, 0, 2]
y_title = "log<sub>2</sub>(Mo17/B73)"
legend_labels = ["Perfect match", "Highly conserved<br>and conserved", "Poorly conserved<br>and No match"]
legend_colors = ["#FF0000", "#0000FF", "#000000"]

# ---------------- Panel B data (1 = Mo17 allele / red, 0 = B73 allele / blue) ----------------
inbred_lines = ["B73", "B104", "N7A", "B109", "Va35", "SD46", "Pa91", "H84", "NC264", "N215", "B84", "N209",
                "B77", "NC314", "N801W", "N28Ht", "Va85", "Oh43", "N194", "R177", "C123", "B113", "Mo44", "Mo17"]
genotype_rows = [
    "0000000000 0000000000 0000000000 00000000",  # B73
    "0000000000 0000000000 0000000000 00000000",  # B104
    "0000000000 0000000000 0000000000 00000000",  # N7A
    "0000000000 0000000000 0000000000 00000000",  # B109
    "0000000000 0000000000 0000000000 00000000",  # Va35
    "0000000000 0000000000 0000000000 00000000",  # SD46
    "0000000000 0000000000 0000000000 00000000",  # Pa91
    "1000000000 0000000000 0000000000 00000000",  # H84
    "0010000000 0000000000 0000000000 00000000",  # NC264
    "0000000001 0000000000 0000000000 00000000",  # N215
    "0000000000 0000000000 0000000000 01000000",  # B84
    "0100000000 0000000000 0000000000 01000000",  # N209
    "0100000000 0000000000 0000000000 01000000",  # B77
    "0010000000 0000000000 0000000010 00000000",  # NC314
    "0111100000 0000000000 0000000000 00100000",  # N801W
    "1000011110 0000010000 0000000000 00001000",  # N28Ht
    "0110000000 1110000000 0000011001 11000000",  # Va85
    "1111111111 1111111111 1111100001 11111111",  # Oh43
    "1111111111 1111111111 1111111110 01111111",  # N194
    "1111111111 1111111111 1111111011 11111111",  # R177
    "1111111111 1111111111 1111011111 11111111",  # C123
    "1111111111 1111111111 1111111111 11111111",  # B113
    "1111111111 1111111111 1111111111 11111111",  # Mo44
    "1111111111 1111111111 1111111111 11111111",  # Mo17
]
genotype = [[int(c) for c in r.replace(" ", "")] for r in genotype_rows]
n_cols = len(genotype[0])

W, H = 1323, 879
FONT = "Liberation Sans, Arial, sans-serif"
MS = 8.5

def px(x):
    return x / W

def py(y):
    return 1 - y / H

fig = go.Figure()

series = [
    (legend_labels[2], poorly_conserved, legend_colors[2]),
    (legend_labels[1], highly_conserved, legend_colors[1]),
    (legend_labels[0], perfect_match, legend_colors[0]),
]
for name, pts, col in series:
    fig.add_trace(go.Scatter(
        x=[p[0] for p in pts], y=[p[1] for p in pts], mode="markers", name=name.replace("<br>", " "),
        marker=dict(color=col, size=MS, line=dict(width=0)), showlegend=False,
        xaxis="x", yaxis="y"))

fig.add_trace(go.Heatmap(
    z=genotype, x=list(range(n_cols)), y=list(range(len(inbred_lines))),
    colorscale=[[0, "#0000FF"], [1, "#FF0000"]], zmin=0, zmax=1, showscale=False,
    xgap=4, ygap=3, xaxis="x2", yaxis="y2", hoverinfo="skip", showlegend=False))

axis_common = dict(showgrid=True, gridcolor="#d0d0d0", gridwidth=1.5, showline=True, linecolor="#3a3a3a",
                   linewidth=1.5, mirror=True, ticks="outside", ticklen=6, tickcolor="#3a3a3a", tickwidth=1.2,
                   zeroline=False, automargin=False, tickfont=dict(family=FONT, size=19, color="#222"))

fig.update_layout(
    width=W, height=H, margin=dict(l=0, r=0, t=0, b=0, autoexpand=False),
    paper_bgcolor="white", plot_bgcolor="white", showlegend=False,
    xaxis=dict(domain=[px(150.7), px(1319)], range=[39.70, 50.52], tickvals=x_tick_vals, ticktext=x_tick_text,
               **axis_common),
    yaxis=dict(domain=[py(295), py(11.7)], range=[-6.5, 2.86], tickvals=y_tick_vals, **axis_common),
    xaxis2=dict(domain=[px(149.5), px(1314)], range=[-0.5, n_cols - 0.5], visible=False, anchor="y2",
                automargin=False),
    yaxis2=dict(domain=[0, py(377.5)], range=[len(inbred_lines) - 0.5, -0.5], visible=False, anchor="x2",
                automargin=False),
)

shapes = [
    dict(type="rect", xref="x2 domain", yref="y2 domain", x0=-0.002, x1=1.002, y0=0, y1=1.004,
         fillcolor="black", line=dict(width=0), layer="below"),
    # legend box (panel A)
    dict(type="rect", xref="paper", yref="paper", x0=px(160), x1=px(311), y0=py(281), y1=py(173),
         fillcolor="white", line=dict(color="black", width=2), layer="above"),
]
legend_rows_y = [186, 217, 260]
for yy, col in zip(legend_rows_y, legend_colors):
    shapes.append(dict(type="circle", xref="paper", yref="paper", x0=px(168), x1=px(177), y0=py(yy + 4.5),
                       y1=py(yy - 4.5), fillcolor=col, line=dict(width=0), layer="above"))

annotations = [
    dict(text="A", x=px(28), y=py(34), xref="paper", yref="paper", xanchor="center", yanchor="middle",
         showarrow=False, font=dict(family=FONT, size=55, color="black")),
    dict(text="B", x=px(29), y=py(430), xref="paper", yref="paper", xanchor="center", yanchor="middle",
         showarrow=False, font=dict(family=FONT, size=55, color="black")),
    dict(text=y_title, x=px(111), y=py(140), xref="paper", yref="paper", xanchor="center", yanchor="middle",
         textangle=-90, showarrow=False, font=dict(family=FONT, size=24, color="#111")),
]
for yy, lab in zip(legend_rows_y, legend_labels):
    annotations.append(dict(text=lab, x=px(182), y=py(yy), xref="paper", yref="paper", xanchor="left",
                            yanchor="middle", align="left", showarrow=False,
                            font=dict(family=FONT, size=15, color="black")))
for i, lab in enumerate(inbred_lines):
    annotations.append(dict(text=lab, x=px(109), y=i, xref="paper", yref="y2", xanchor="center", yanchor="middle",
                            showarrow=False, font=dict(family="DejaVu Sans, Verdana, sans-serif", size=15.5,
                                                       color="#111")))
fig.update_layout(shapes=shapes, annotations=annotations)

fig.write_html("out.html")
